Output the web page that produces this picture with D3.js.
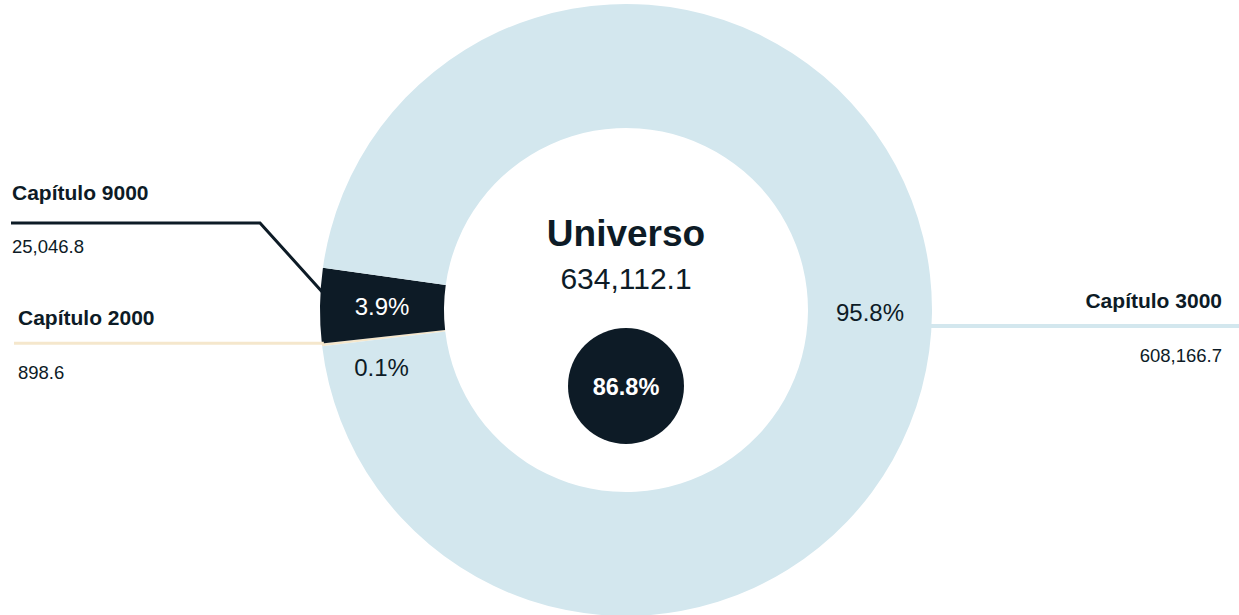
<!DOCTYPE html>
<html>
<head>
<meta charset="utf-8">
<script src="https://cdn.jsdelivr.net/npm/d3@7"></script>
<style>
  body { margin: 0; background: #fff; }
  text { font-family: "Liberation Sans", Arial, sans-serif; }
</style>
</head>
<body>
<div id="chart"></div>
<script>
// datos
var capitulos = ["Capítulo 2000", "Capítulo 9000", "Capítulo 3000"];
var montos = [898.6, 25046.8, 608166.7];
var porcentajes = ["0.1%", "3.9%", "95.8%"];
var colores = ["#f5e7cc", "#0d1b26", "#d3e7ee"];
var totalLabel = "Universo";
var totalValor = "634,112.1";
var circuloValor = "86.8%";

var width = 1239, height = 615;
var cx = 626, cy = 310;
var rOut = 306, rIn = 182;

var svg = d3.select("#chart").append("svg")
    .attr("width", width)
    .attr("height", height);

var g = svg.append("g")
    .attr("transform", "translate(" + cx + "," + cy + ")");

var pie = d3.pie()
    .sort(null)
    .value(function (d) { return d; })
    .startAngle(263.2 * Math.PI / 180)
    .endAngle((263.2 + 360) * Math.PI / 180);

var arcs = pie(montos);

var arc = d3.arc()
    .innerRadius(rIn)
    .outerRadius(rOut);

g.selectAll("path.slice")
    .data(arcs)
    .enter().append("path")
    .attr("class", "slice")
    .attr("d", arc)
    .attr("fill", function (d, i) { return colores[i]; });

// porcentajes dentro del anillo
var arcMid = d3.arc().innerRadius((rIn + rOut) / 2).outerRadius((rIn + rOut) / 2);
var offsets = [[-2, 30], [0, 0], [0, 0]];
g.selectAll("text.pct")
    .data(arcs)
    .enter().append("text")
    .attr("class", "pct")
    .attr("x", function (d, i) { return arcMid.centroid(d)[0] + offsets[i][0]; })
    .attr("y", function (d, i) { return arcMid.centroid(d)[1] + offsets[i][1]; })
    .attr("dy", "0.35em")
    .attr("text-anchor", "middle")
    .attr("font-size", 24)
    .attr("fill", function (d, i) { return i == 1 ? "#ffffff" : "#0d1b26"; })
    .text(function (d, i) { return porcentajes[i]; });

// lineas guia
var arcEdge = d3.arc().innerRadius(rOut - 2).outerRadius(rOut - 2);
var p9000 = arcEdge.centroid(arcs[1]);
var guia9000 = [[p9000[0], p9000[1] - 14], [260 - cx, 223 - cy], [11 - cx, 223 - cy]];
var p2000 = [Math.sin(arcs[0].endAngle) * (rOut - 2), -Math.cos(arcs[0].endAngle) * (rOut - 2)];
var guia2000 = [p2000, [14 - cx, p2000[1]]];
var p3000 = [rOut - 2, 16];
var guia3000 = [p3000, [width - cx, 16]];

var line = d3.line();
g.append("path").attr("d", line(guia9000)).attr("fill", "none")
    .attr("stroke", colores[1]).attr("stroke-width", 3);
g.append("path").attr("d", line(guia2000)).attr("fill", "none")
    .attr("stroke", colores[0]).attr("stroke-width", 3);
g.append("path").attr("d", line(guia3000)).attr("fill", "none")
    .attr("stroke", colores[2]).attr("stroke-width", 4);

// etiquetas laterales
var etiquetas = [
    { x: 18, y: 325, yv: 379, anchor: "start" },
    { x: 12, y: 200, yv: 253, anchor: "start" },
    { x: 1222, y: 308, yv: 362, anchor: "end" }
];
etiquetas.forEach(function (e, i) {
    svg.append("text")
        .attr("x", e.x).attr("y", e.y)
        .attr("text-anchor", e.anchor)
        .attr("font-size", 21)
        .attr("font-weight", "bold")
        .attr("fill", "#0d1b26")
        .text(capitulos[i]);
    svg.append("text")
        .attr("x", e.x).attr("y", e.yv)
        .attr("text-anchor", e.anchor)
        .attr("font-size", 18.5)
        .attr("fill", "#0d1b26")
        .text(d3.format(",.1f")(montos[i]));
});

// centro
svg.append("text")
    .attr("x", cx).attr("y", 246)
    .attr("text-anchor", "middle")
    .attr("font-size", 37)
    .attr("font-weight", "bold")
    .attr("fill", "#0d1b26")
    .text(totalLabel);
svg.append("text")
    .attr("x", cx).attr("y", 289)
    .attr("text-anchor", "middle")
    .attr("font-size", 30)
    .attr("fill", "#0d1b26")
    .text(totalValor);

svg.append("circle")
    .attr("cx", cx).attr("cy", 386)
    .attr("r", 58)
    .attr("fill", "#0d1b26");
svg.append("text")
    .attr("x", cx).attr("y", 395)
    .attr("text-anchor", "middle")
    .attr("font-size", 23.5)
    .attr("font-weight", "bold")
    .attr("fill", "#ffffff")
    .text(circuloValor);
</script>
</body>
</html>
